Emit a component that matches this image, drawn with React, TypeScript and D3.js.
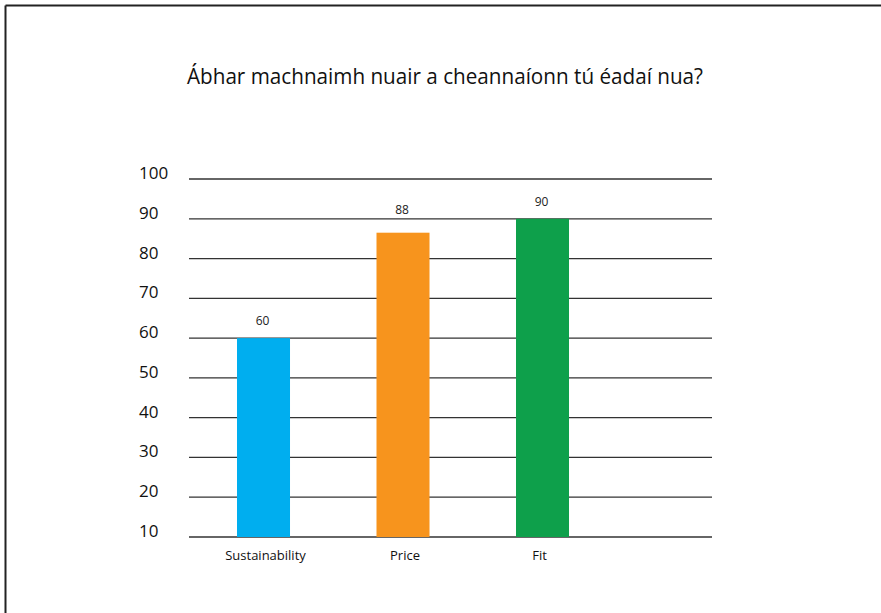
import React from "react";
import * as d3 from "d3";

const categories = ["Sustainability", "Price", "Fit"];
const barValues = [60, 86.5, 90];
const labelValues = [60, 88, 90];
const barColors = ["#00aeef", "#f7941d", "#0ea04b"];
const yTicks = [10, 20, 30, 40, 50, 60, 70, 80, 90, 100];
const title = "Ábhar machnaimh nuair a cheannaíonn tú éadaí nua?";

export default function App() {
  const W = 881, H = 613;
  const y = d3.scaleLinear().domain([10, 100]).range([537, 179]);
  const x = d3.scaleBand().domain(categories).range([195.15, 610.86]).paddingInner(0.62).paddingOuter(0.3);
  const catLabelShift = [2, 2, -3];
  const font = "'Open Sans', 'Noto Sans', sans-serif";
  return (
    <svg width={W} height={H} style={{ position: "absolute", left: 0, top: 0, background: "#fff" }}>
      <line x1={5.5} y1={5.5} x2={W} y2={5.5} stroke="#222" strokeWidth={2} />
      <line x1={5.5} y1={5.5} x2={5.5} y2={H} stroke="#222" strokeWidth={2} />
      <text x={445} y={84} textAnchor="middle" fontFamily={font} fontSize={21} fill="#111" textLength={516} lengthAdjust="spacingAndGlyphs">{title}</text>
      {yTicks.map((t) => (
        <g key={t}>
          <line x1={189} x2={712} y1={y(t)} y2={y(t)} stroke="#333" strokeWidth={1.3} />
          <text x={139} y={y(t)} fontFamily={font} fontSize={17} fill="#111">{t}</text>
        </g>
      ))}
      {categories.map((c, i) => {
        const cx = (x(c) as number) + x.bandwidth() / 2;
        return (
          <g key={c}>
            <rect x={x(c)} y={y(barValues[i])} width={x.bandwidth()} height={y(10) - y(barValues[i])} fill={barColors[i]} />
            <text x={cx - 1} y={y(labelValues[i]) - 13} textAnchor="middle" fontFamily={font} fontSize={12} fill="#222">{labelValues[i]}</text>
            <text x={cx + catLabelShift[i]} y={560} textAnchor="middle" fontFamily={font} fontSize={13} fill="#111">{c}</text>
          </g>
        );
      })}
    </svg>
  );
}
